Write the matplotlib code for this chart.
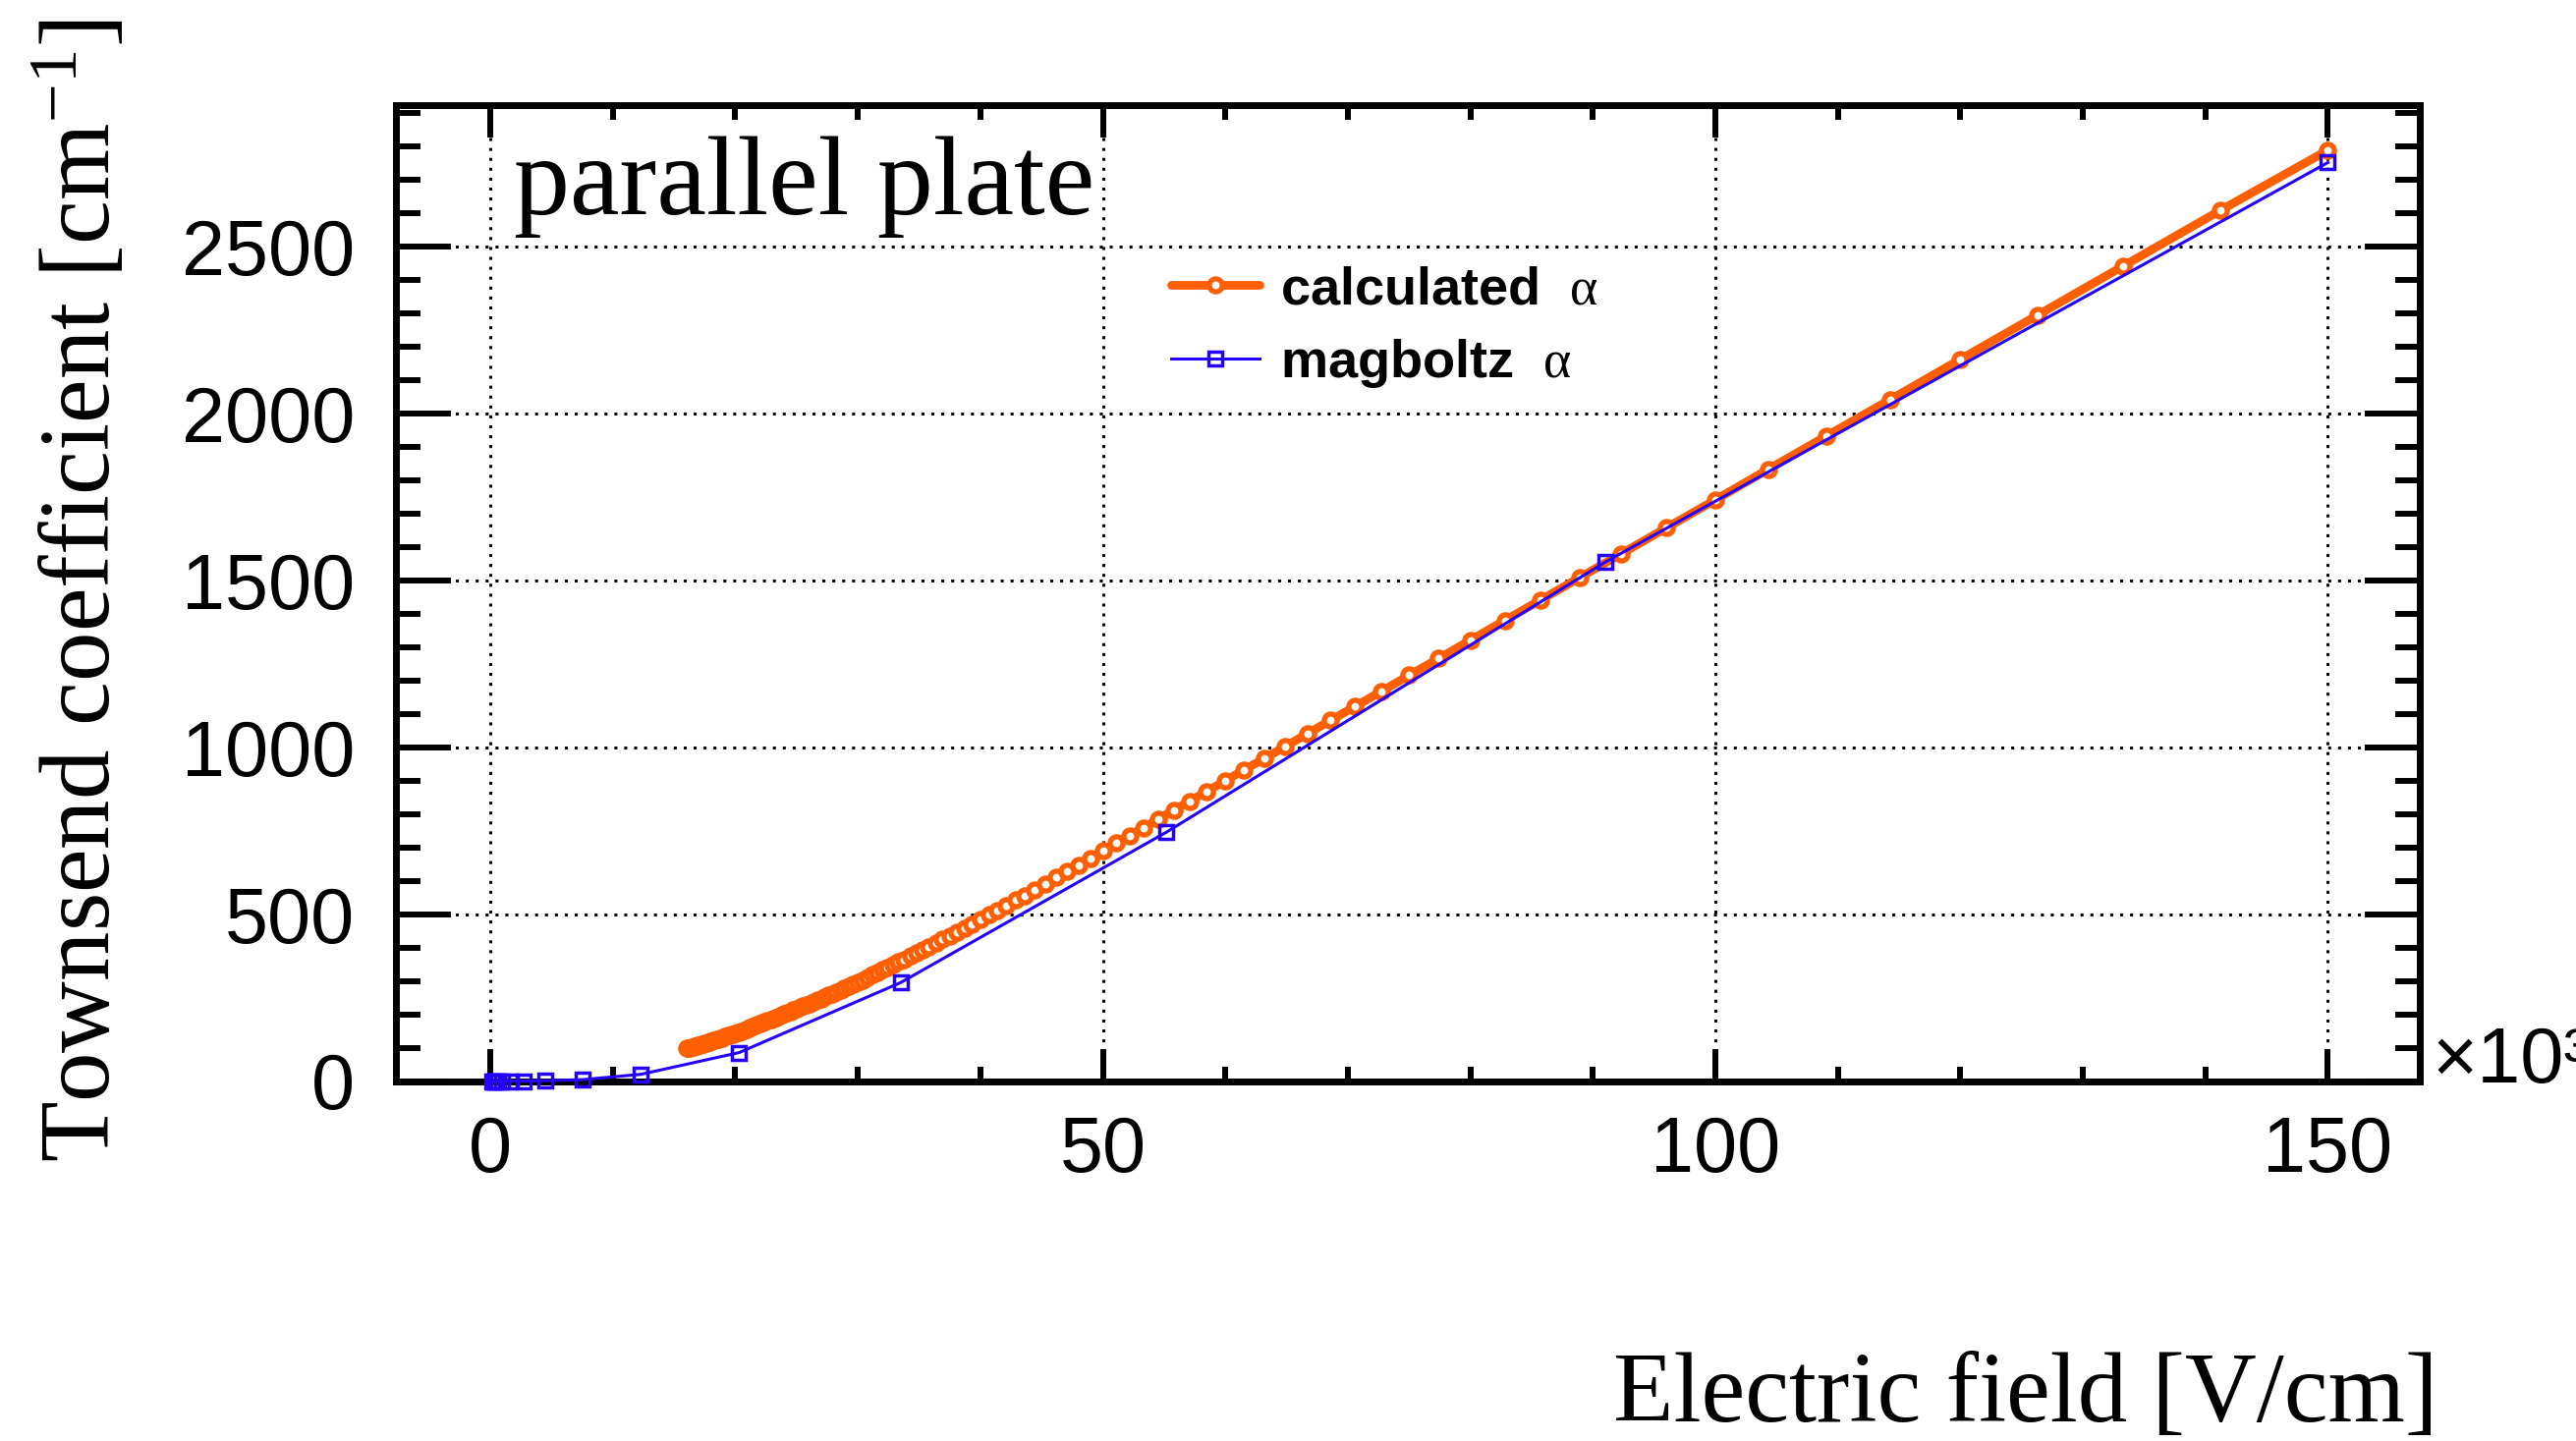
import matplotlib
matplotlib.use("Agg")
import matplotlib.pyplot as plt
from matplotlib.ticker import MultipleLocator, FormatStrFormatter

# ---------------- data ----------------
E_calc = [16.0, 16.1, 16.2, 16.3, 16.4, 16.6, 16.7, 16.8, 16.9, 17.0, 17.1, 17.3, 17.4, 17.5,
          17.6, 17.8, 17.9, 18.0, 18.2, 18.3, 18.5, 18.6, 18.8, 18.9, 19.0, 19.2, 19.4, 19.5,
          19.7, 19.8, 20.0, 20.2, 20.3, 20.5, 20.7, 20.9, 21.1, 21.2, 21.4, 21.6, 21.8, 22.0,
          22.2, 22.4, 22.6, 22.9, 23.1, 23.3, 23.5, 23.8, 24.0, 24.2, 24.5, 24.7, 25.0, 25.3,
          25.5, 25.8, 26.1, 26.4, 26.7, 27.0, 27.3, 27.6, 27.9, 28.2, 28.6, 28.9, 29.3, 29.6,
          30.0, 30.4, 30.8, 31.2, 31.6, 32.0, 32.4, 32.9, 33.3, 33.8, 34.3, 34.8, 35.3, 35.8,
          36.4, 36.9, 37.5, 38.1, 38.7, 39.3, 40.0, 40.7, 41.4, 42.1, 42.9, 43.6, 44.4, 45.3,
          46.2, 47.1, 48.0, 49.0, 50.0, 51.1, 52.2, 53.3, 54.5, 55.8, 57.1, 58.5, 60.0, 61.5,
          63.2, 64.9, 66.7, 68.6, 70.6, 72.7, 75.0, 77.4, 80.0, 82.8, 85.7, 88.9, 92.3, 96.0,
          100.0, 104.3, 109.1, 114.3, 120.0, 126.3, 133.3, 141.2, 150.0]
alpha_calc = [98, 99, 99, 100, 101, 103, 104, 105, 106, 107, 108, 110, 111, 112,
              113, 116, 117, 118, 121, 122, 124, 125, 128, 129, 130, 134, 136, 137,
              140, 141, 143, 146, 147, 150, 153, 156, 158, 160, 162, 166, 168, 171,
              174, 177, 180, 184, 187, 190, 194, 198, 201, 204, 209, 212, 216, 221,
              224, 228, 232, 238, 242, 247, 252, 257, 261, 267, 273, 277, 284, 289,
              296, 303, 310, 318, 325, 333, 340, 350, 357, 365, 375, 384, 393, 403,
              414, 424, 435, 447, 459, 470, 484, 498, 512, 526, 542, 556, 573, 591,
              610, 628, 647, 668, 690, 713, 736, 759, 784, 812, 839, 868, 900, 932,
              967, 1003, 1041, 1081, 1123, 1167, 1216, 1266, 1321, 1380, 1441, 1508, 1580, 1658,
              1742, 1833, 1934, 2043, 2163, 2296, 2443, 2609, 2790]

E_mag = [0.14, 0.22, 0.37, 0.61, 1.0, 1.7, 2.7, 4.5, 7.5, 12.3, 20.3, 33.5, 55.2, 91.0, 150.0]
alpha_mag = [0, 0, 0, 0, 0, 0, 0, 1, 4, 20, 85, 295, 746, 1555, 2753]

x_major = [0, 50, 100, 150]
y_major = [0, 500, 1000, 1500, 2000, 2500]

label_calc = r"calculated  $\mathrm{\alpha}$"
label_mag = r"magboltz  $\mathrm{\alpha}$"

# ---------------- style ----------------
plt.rcParams['mathtext.fontset'] = 'custom'
plt.rcParams['mathtext.rm'] = 'Liberation Serif'
plt.rcParams['mathtext.it'] = 'Liberation Serif:italic'
plt.rcParams['mathtext.bf'] = 'Liberation Serif:bold'

W, H = 2622, 1467
fig = plt.figure(figsize=(W / 100, H / 100), dpi=100)
L, R, T, B = 403, 2463, 107, 1100.5
ax = fig.add_axes([L / W, 1 - B / H, (R - L) / W, (B - T) / H])

ORANGE = '#ff5f00'
BLUE = '#2400ff'

ax.plot(E_calc, alpha_calc, color=ORANGE, lw=6.3, marker='o', ms=9.5, mew=3.8,
        mfc='white', mec=ORANGE, zorder=4, label=label_calc, solid_capstyle='round')
ax.plot(E_mag, alpha_mag, color=BLUE, lw=2.2, marker='s', ms=9.5, mew=2.5,
        mfc='none', mec=BLUE, zorder=5, label=label_mag, clip_on=False)

ax.set_xlim(-7.7, 157.5)
ax.set_ylim(0, 2925)

ax.xaxis.set_major_locator(plt.FixedLocator(x_major))
ax.yaxis.set_major_locator(plt.FixedLocator(y_major))
ax.xaxis.set_minor_locator(MultipleLocator(10))
ax.yaxis.set_minor_locator(MultipleLocator(100))
ax.xaxis.set_major_formatter(FormatStrFormatter('%d'))
ax.yaxis.set_major_formatter(FormatStrFormatter('%d'))

ax.grid(True, which='major', color='black', lw=2.2, linestyle=(0, (1, 2.3)))
ax.set_axisbelow(True)

for s in ax.spines.values():
    s.set_linewidth(5)
    s.set_zorder(3)

ax.tick_params(which='both', direction='in', top=True, right=True, width=4.3, color='black')
ax.tick_params(axis='x', which='major', length=24, pad=25)
ax.tick_params(axis='x', which='minor', length=11)
ax.tick_params(axis='y', which='major', length=40, pad=30)
ax.tick_params(axis='y', which='minor', length=18)
for lab in ax.get_xticklabels() + ax.get_yticklabels():
    lab.set_fontfamily('Liberation Sans')
    lab.set_fontsize(57)

# axis titles
ax.set_ylabel(r"Townsend coefficient [cm$^{-1}$]", fontfamily='Liberation Serif', fontsize=72.5)
ax.yaxis.set_label_coords((85 - L) / (R - L), (B - 601) / (B - T))
ax.yaxis.label.set_verticalalignment('center')

ax.set_xlabel("Electric field [V/cm]", fontfamily='Liberation Serif', fontsize=72.5, loc='right')
ax.xaxis.set_label_coords((2482 - L) / (R - L), (B - 1447) / (B - T))
ax.xaxis.label.set_verticalalignment('baseline')
ax.xaxis.label.set_horizontalalignment('right')

# x10^3 multiplier (cut by the right edge, as in the original)
fig.text(2476 / W, 1 - 1102 / H, "×10³", fontfamily='Liberation Sans', fontsize=57,
         ha='left', va='baseline')

# label text
fig.text(523 / W, 1 - 218 / H, "parallel plate", fontfamily='Liberation Serif', fontsize=82,
         ha='left', va='baseline')

leg = ax.legend(loc='upper left', bbox_to_anchor=(1192 / W, 1 - 270 / H),
                bbox_transform=fig.transFigure, frameon=False, numpoints=1,
                borderpad=0, borderaxespad=0, handlelength=1.66, handletextpad=0.39,
                labelspacing=0.42,
                prop={'family': 'Liberation Sans', 'weight': 'bold', 'size': 39})

fig.savefig('out.png', dpi=100)
